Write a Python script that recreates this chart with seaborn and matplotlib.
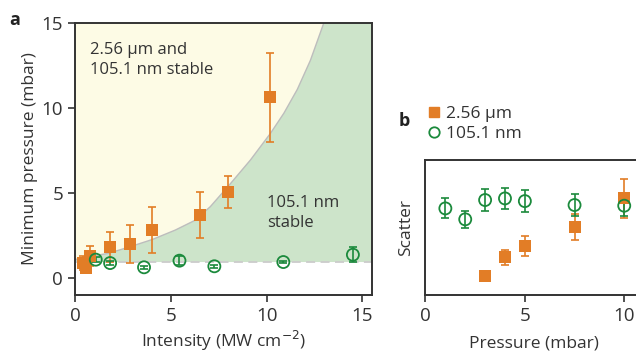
import matplotlib
matplotlib.use("Agg")
import matplotlib.pyplot as plt
from matplotlib.lines import Line2D
import seaborn as sns
import pandas as pd

# panel a: minimum pressure vs intensity
a_orange_x = [0.4, 0.55, 0.8, 1.8, 2.87, 4.0, 6.5, 8.0, 10.18]
a_orange_y = [0.9, 0.6, 1.3, 1.82, 2.0, 2.84, 3.69, 5.04, 10.63]
a_orange_err = [0.4, 0.3, 0.6, 0.9, 1.1, 1.35, 1.35, 0.95, 2.6]
a_green_x = [1.08, 1.83, 3.6, 5.45, 7.27, 10.87, 14.5]
a_green_y = [1.08, 0.88, 0.63, 1.02, 0.69, 0.94, 1.37]
a_green_err = [0.15, 0.12, 0.1, 0.25, 0.1, 0.05, 0.45]

# stability boundary
bound_x = [0.0, 0.17, 1.74, 2.87, 4.04, 5.23, 6.27, 7.06, 8.07, 9.15, 10.19, 10.9, 11.6, 12.28, 12.98]
bound_y = [1.05, 1.16, 1.45, 1.84, 2.27, 2.82, 3.4, 4.2, 5.5, 6.94, 8.5, 9.7, 11.1, 12.8, 15.0]
floor_y = 0.94

# panel b: scatter vs pressure
b_orange_x = [3, 4, 5, 7.5, 10]
b_orange_y = [0.141, 0.279, 0.363, 0.501, 0.716]
b_orange_err = [0.0, 0.053, 0.074, 0.096, 0.143]
b_green_x = [1, 2, 3, 4, 5, 7.5, 10]
b_green_y = [0.642, 0.561, 0.704, 0.716, 0.696, 0.667, 0.662]
b_green_err = [0.074, 0.063, 0.08, 0.08, 0.08, 0.08, 0.08]

orange = "#E27D26"
green = "#1B8A3C"
txt = "#333333"

sns.set_theme(style="ticks")
plt.rcParams["font.family"] = ["Open Sans", "DejaVu Sans"]
plt.rcParams.update({"axes.edgecolor": "#333333", "axes.linewidth": 1.4,
                     "xtick.color": "#333333", "ytick.color": "#333333",
                     "xtick.labelcolor": txt, "ytick.labelcolor": txt,
                     "xtick.major.size": 5, "ytick.major.size": 5,
                     "xtick.major.width": 1.2, "ytick.major.width": 1.2,
                     "font.size": 12})

fig = plt.figure(figsize=(6.36, 3.55), dpi=100)
ax = fig.add_axes([0.118, 0.169, 0.467, 0.766])
axb = fig.add_axes([0.669, 0.169, 0.34, 0.380])

# ---- panel a
ax.set_xlim(0, 15.5)
ax.set_ylim(-1, 15)
ax.fill_between([0, 15.5], floor_y, 15, color="#FDFBE5", lw=0, zorder=0)
bx = bound_x + [15.5, 15.5, 0]
by = bound_y + [15, floor_y, floor_y]
ax.fill(bx, by, color="#CDE4CA", lw=0, zorder=0.5)
ax.plot(bound_x, bound_y, color="#BDBDBD", lw=1.0, zorder=0.6)
ax.axhline(floor_y, color="#CCCCCC", lw=1.3, ls=(0, (5, 3)), zorder=0.7)

dfa_o = pd.DataFrame({"x": a_orange_x, "y": a_orange_y})
dfa_g = pd.DataFrame({"x": a_green_x, "y": a_green_y})
ax.errorbar(a_orange_x, a_orange_y, yerr=a_orange_err, fmt="none",
            ecolor=orange, elinewidth=1.2, capsize=3, capthick=1.2, zorder=2)
sns.scatterplot(data=dfa_o, x="x", y="y", ax=ax, marker="s", s=70,
                color=orange, edgecolor=orange, linewidth=0, zorder=3)
ax.errorbar(a_green_x, a_green_y, yerr=a_green_err, fmt="none",
            ecolor=green, elinewidth=1.2, capsize=3, capthick=1.2, zorder=2)
sns.scatterplot(data=dfa_g, x="x", y="y", ax=ax, marker="o", s=75,
                facecolor="none", edgecolor=green, linewidth=1.3, zorder=3)

ax.set_xticks([0, 5, 10, 15])
ax.set_yticks([0, 5, 10, 15])
ax.tick_params(labelsize=13.5)
ax.set_xlabel("Intensity (MW cm$^{-2}$)", fontsize=12.5, color=txt, labelpad=3)
ax.set_ylabel("Minimum pressure (mbar)", fontsize=12.5, color=txt, labelpad=3)
ax.text(0.8, 13.9, "2.56 µm and\n105.1 nm stable", fontsize=12, color=txt,
        va="top", ha="left", linespacing=1.35)
ax.text(10.0, 4.9, "105.1 nm\nstable", fontsize=12, color=txt,
        va="top", ha="left", linespacing=1.35)
fig.text(0.015, 0.93, "a", fontsize=13, fontweight="bold", color="#222222")

# ---- panel b
axb.set_xlim(0, 10.88)
axb.set_ylim(0, 1)
dfb_o = pd.DataFrame({"x": b_orange_x, "y": b_orange_y})
dfb_g = pd.DataFrame({"x": b_green_x, "y": b_green_y})
axb.errorbar(b_orange_x, b_orange_y, yerr=b_orange_err, fmt="none",
             ecolor=orange, elinewidth=1.2, capsize=3, capthick=1.2, zorder=2)
sns.scatterplot(data=dfb_o, x="x", y="y", ax=axb, marker="s", s=70,
                color=orange, edgecolor=orange, linewidth=0, zorder=3)
axb.errorbar(b_green_x, b_green_y, yerr=b_green_err, fmt="none",
             ecolor=green, elinewidth=1.2, capsize=3, capthick=1.2, zorder=2)
sns.scatterplot(data=dfb_g, x="x", y="y", ax=axb, marker="o", s=75,
                facecolor="none", edgecolor=green, linewidth=1.3, zorder=3)
axb.set_xticks([0, 5, 10])
axb.set_yticks([])
axb.tick_params(labelsize=13.5)
axb.spines["right"].set_visible(False)
axb.set_xlabel("Pressure (mbar)", fontsize=12.5, color=txt, labelpad=8)
axb.set_ylabel("Scatter", fontsize=12.5, color=txt, labelpad=8)

handles = [Line2D([], [], marker="s", ls="none", color=orange, markersize=7),
           Line2D([], [], marker="o", ls="none", markerfacecolor="none",
                  markeredgecolor=green, markeredgewidth=1.3, markersize=7.5)]
fig.legend(handles, ["2.56 µm", "105.1 nm"], loc="upper left",
           bbox_to_anchor=(0.66, 0.725), frameon=False, fontsize=12.5,
           handlelength=0.6, handletextpad=0.4, labelspacing=0.2,
           borderpad=0, labelcolor=txt)
fig.text(0.626, 0.645, "b", fontsize=13, fontweight="bold", color="#222222")

fig.savefig("out.png", dpi=100)
